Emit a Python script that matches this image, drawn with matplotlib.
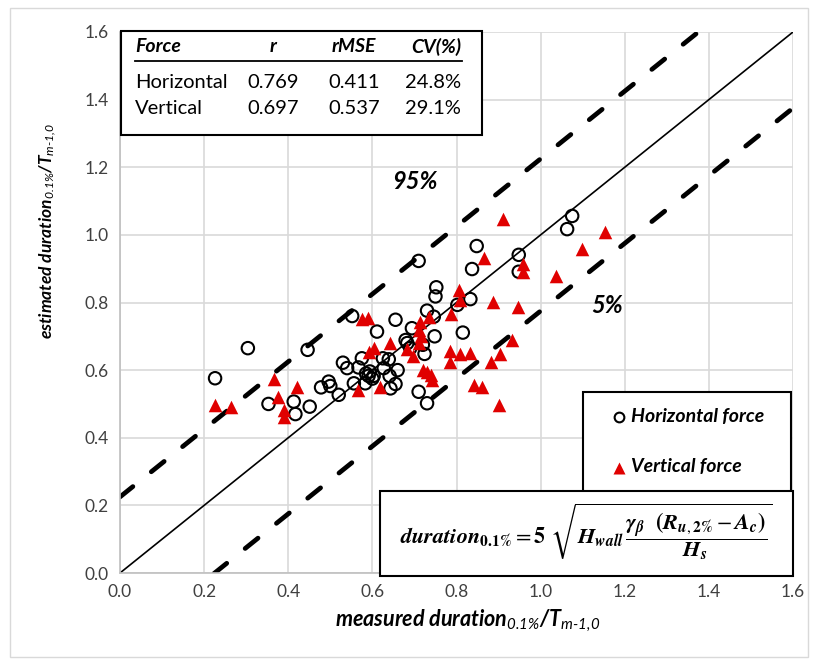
import matplotlib
matplotlib.use('Agg')
import matplotlib.pyplot as plt
from matplotlib.patches import Rectangle
import numpy as np

# horizontal force (circles)
h_meas = [0.226, 0.304, 0.353, 0.413, 0.417, 0.446, 0.451, 0.478, 0.496, 0.500,
          0.520, 0.530, 0.540, 0.552, 0.556, 0.567, 0.575, 0.583, 0.591, 0.594,
          0.603, 0.611, 0.625, 0.627, 0.639, 0.641, 0.643, 0.655, 0.655, 0.679,
          0.683, 0.694, 0.710, 0.710, 0.730, 0.724, 0.730, 0.746, 0.748, 0.750,
          0.752, 0.802, 0.815, 0.833, 0.837, 0.848, 0.948, 0.948, 1.063, 1.075,
          0.600, 0.585, 0.690, 0.720, 0.660]
h_est = [0.576, 0.665, 0.500, 0.507, 0.470, 0.660, 0.492, 0.549, 0.566, 0.553,
         0.527, 0.622, 0.606, 0.760, 0.561, 0.608, 0.635, 0.561, 0.583, 0.596,
         0.583, 0.714, 0.635, 0.606, 0.632, 0.583, 0.546, 0.559, 0.749, 0.689,
         0.680, 0.724, 0.923, 0.536, 0.502, 0.648, 0.776, 0.758, 0.700, 0.818,
         0.845, 0.793, 0.711, 0.810, 0.899, 0.967, 0.941, 0.891, 1.017, 1.056,
         0.575, 0.590, 0.665, 0.675, 0.600]

# vertical force (triangles)
v_meas = [0.226, 0.263, 0.367, 0.375, 0.389, 0.389, 0.421, 0.567, 0.617, 0.575,
          0.589, 0.591, 0.605, 0.641, 0.683, 0.697, 0.710, 0.710, 0.713, 0.734,
          0.720, 0.740, 0.742, 0.784, 0.784, 0.786, 0.806, 0.808, 0.808, 0.833,
          0.841, 0.861, 0.865, 0.882, 0.887, 0.901, 0.903, 0.911, 0.931, 0.946,
          0.958, 0.958, 1.036, 1.099, 1.152, 0.716, 0.730]
v_est = [0.497, 0.490, 0.573, 0.520, 0.482, 0.461, 0.551, 0.541, 0.551, 0.750,
         0.753, 0.655, 0.665, 0.681, 0.662, 0.642, 0.680, 0.719, 0.743, 0.758,
         0.601, 0.586, 0.571, 0.658, 0.625, 0.765, 0.837, 0.808, 0.648, 0.652,
         0.556, 0.551, 0.931, 0.625, 0.802, 0.498, 0.648, 1.047, 0.690, 0.787,
         0.914, 0.890, 0.879, 0.958, 1.008, 0.700, 0.595]

band = 0.225
ticks = [0.0, 0.2, 0.4, 0.6, 0.8, 1.0, 1.2, 1.4, 1.6]

table_head = ['Force', 'r', 'rMSE', 'CV(%)']
table_rows = [['Horizontal', '0.769', '0.411', '24.8%'],
              ['Vertical', '0.697', '0.537', '29.1%']]

plt.rcParams['font.family'] = ['Lato', 'DejaVu Sans']
plt.rcParams['mathtext.fontset'] = 'custom'
plt.rcParams['mathtext.it'] = 'Lato:italic'
plt.rcParams['mathtext.rm'] = 'Lato:italic'
plt.rcParams['mathtext.bf'] = 'Lato:italic:bold'

W, H = 818, 666
fig = plt.figure(figsize=(W/100, H/100), dpi=100)

def fx(px): return px / W
def fy(py): return 1 - py / H

# chart area border
fig.patches.append(Rectangle((fx(10), fy(657)), fx(798), 649/H, transform=fig.transFigure,
                             fill=False, edgecolor='#d9d9d9', lw=1.0))

ax = fig.add_axes([fx(120), fy(573), 673/W, 541/H])
ax.set_xlim(0, 1.6)
ax.set_ylim(0, 1.6)
ax.set_xticks(ticks)
ax.set_yticks(ticks)
ax.set_xticklabels(['%.1f' % t for t in ticks])
ax.set_yticklabels(['%.1f' % t for t in ticks])
ax.tick_params(length=0, labelsize=12.5, labelcolor='#404040', pad=8)
ax.grid(color='#d9d9d9', lw=1.2)
ax.set_axisbelow(True)
for s in ['top', 'right']:
    ax.spines[s].set_visible(False)
for s in ['left', 'bottom']:
    ax.spines[s].set_color('#bfbfbf')
    ax.spines[s].set_linewidth(1.2)

xx = np.array([0, 1.6])
ax.plot(xx, xx, color='k', lw=1.2, zorder=2)
ax.plot(xx, xx + band, color='k', lw=3.4, dashes=(3.5, 5.0), dash_capstyle='round', zorder=2)
ax.plot(xx, xx - band, color='k', lw=3.4, dashes=(3.5, 5.0), dash_capstyle='round', zorder=2)

ax.scatter(h_meas, h_est, s=80, facecolor='none', edgecolor='k', lw=1.5, zorder=3)
ax.scatter(v_meas, v_est, s=95, marker='^', color='#e00000', lw=0, zorder=3)

ax.text(0.702, 1.157, '95%', fontsize=17, fontweight='bold', style='italic', ha='center', va='center')
ax.text(1.157, 0.79, '5%', fontsize=17, fontweight='bold', style='italic', ha='center', va='center')

ax.set_xlabel(r'measured duration$_{0.1\%}$/T$_{\text{m-1,0}}$', fontsize=15.5,
              fontweight='bold', style='italic')
ax.xaxis.set_label_coords(0.516, -0.063)
ax.set_ylabel(r'estimated duration$_{0.1\%}$/T$_{\text{m-1,0}}$', fontsize=12.5,
              fontweight='bold', style='italic')
ax.yaxis.set_label_coords(-0.092, 0.632)

# stats table
fig.patches.append(Rectangle((fx(121), fy(135)), 361/W, 104/H, transform=fig.transFigure,
                             facecolor='white', edgecolor='k', lw=1.5, zorder=5))
col_x = [135, 273, 354, 461]
col_ha = ['left', 'center', 'center', 'right']
for j, t in enumerate(table_head):
    fig.text(fx(col_x[j]), fy(47), t, fontsize=14, fontweight='bold', style='italic',
             ha=col_ha[j], va='center', zorder=6)
fig.lines.append(plt.Line2D([fx(135), fx(462)], [fy(61), fy(61)], transform=fig.transFigure,
                            color='k', lw=1.3, zorder=6))
for i, row in enumerate(table_rows):
    for j, t in enumerate(row):
        fig.text(fx(col_x[j]), fy(83 + 25 * i), t, fontsize=14.5, ha=col_ha[j],
                 va='center', zorder=6)

# legend box
fig.patches.append(Rectangle((fx(583), fy(492)), 208/W, 100/H, transform=fig.transFigure,
                             facecolor='white', edgecolor='k', lw=1.5, zorder=5))
fig.lines.append(plt.Line2D([fx(619)], [fy(417)], transform=fig.transFigure, marker='o', ms=7,
                            mfc='none', mec='k', mew=1.5, ls='none', zorder=6))
fig.lines.append(plt.Line2D([fx(619)], [fy(468)], transform=fig.transFigure, marker='^', ms=9,
                            mfc='#e00000', mec='none', ls='none', zorder=6))
fig.text(fx(631), fy(416), 'Horizontal force', fontsize=14, fontweight='bold', style='italic',
         va='center', zorder=6)
fig.text(fx(631), fy(466), 'Vertical force', fontsize=14, fontweight='bold', style='italic',
         va='center', zorder=6)

# formula box
fig.patches.append(Rectangle((fx(380), fy(576)), 413/W, 85/H, transform=fig.transFigure,
                             facecolor='white', edgecolor='k', lw=1.5, zorder=5))
formula = (r'$\mathbfit{duration}_{\mathbf{0.1\%}} = \mathbf{5}\ '
           r'\sqrt{\mathbfit{H}_{\mathbfit{wall}}\,\dfrac{\mathbfit{\gamma}_{\mathbfit{\beta}}\ \ '
           r'\mathbf{(}\mathbfit{R}_{\mathbfit{u},\mathbf{2\%}} - \mathbfit{A}_{\mathbfit{c}}\mathbf{)}}'
           r'{\mathbfit{H}_{\mathbfit{s}}}}$')
fig.text(fx(586), fy(532), formula, fontsize=16, math_fontfamily='stix', ha='center',
         va='center', zorder=6)

plt.savefig('out.png', dpi=100)
